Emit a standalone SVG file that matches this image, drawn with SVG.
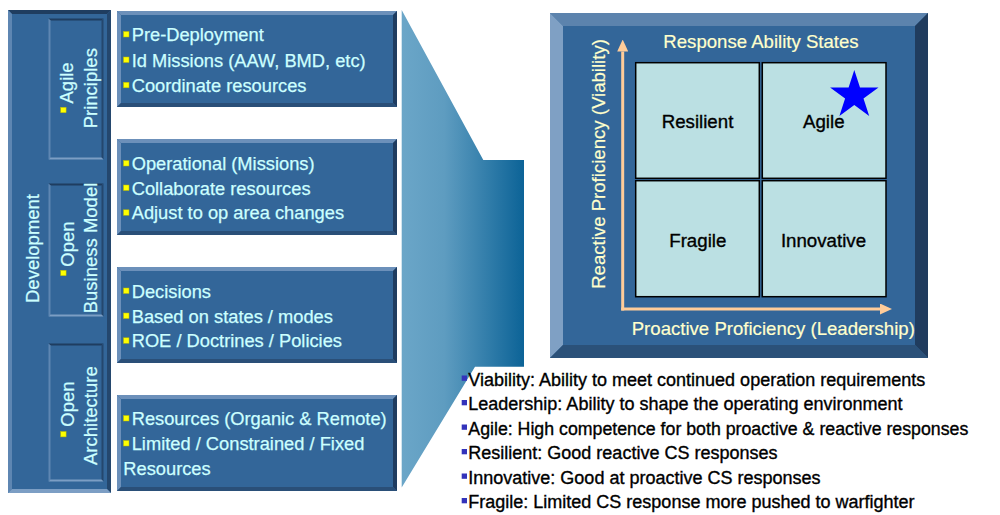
<svg xmlns="http://www.w3.org/2000/svg" width="1000" height="515" viewBox="0 0 1000 515">
<defs>
<linearGradient id="funnelGrad" x1="401.7" y1="0" x2="524" y2="0" gradientUnits="userSpaceOnUse">
<stop offset="0" stop-color="#6BA6C8"/>
<stop offset="0.35" stop-color="#5E9CC0"/>
<stop offset="1" stop-color="#0C6397"/>
</linearGradient>
<marker id="arrowHead" viewBox="0 0 12 11" refX="0" refY="5.5" markerWidth="12" markerHeight="11" markerUnits="userSpaceOnUse" orient="auto">
<path d="M0,0 L12,5.5 L0,11 Z" fill="#FFCC99"/>
</marker>
</defs>
<style>
.face{fill:#336699}
.bl{fill:#6C90BA}
.bd{fill:#1F3C60}
.bd2{fill:#2A4F78}
.txt{font-family:"Liberation Sans",Arial,sans-serif;font-size:18.3px;fill:#CCFFFF;stroke:#CCFFFF;stroke-width:0.25}
.lt{font-family:"Liberation Sans",Arial,sans-serif;font-size:18.5px;fill:#CCFFFF;stroke:#CCFFFF;stroke-width:0.25}
.ybul{fill:#FFFF00;stroke:#B8B800;stroke-width:0.5}
.bbul{fill:#3333BB}
.leg{font-family:"Liberation Sans",Arial,sans-serif;font-size:18px;fill:#000000;stroke:#000000;stroke-width:0.35}
.cell{fill:#BBE0E3;stroke:#000000;stroke-width:1.5}
.clab{font-family:"Liberation Sans",Arial,sans-serif;font-size:18.7px;fill:#000000;stroke:#000000;stroke-width:0.35;text-anchor:middle}
.axlab{font-family:"Liberation Sans",Arial,sans-serif;font-size:18.6px;fill:#FFFFCC;stroke:#FFFFCC;stroke-width:0.2;text-anchor:middle}
.axis{stroke:#FFCC99;stroke-width:3;fill:none}
</style>
<rect width="1000" height="515" fill="#FFFFFF"/>

<!-- Left development panel -->
<g id="development-panel">
<rect class="face" x="8" y="10" width="103" height="483"/>
<polygon fill="#1F3D60" points="8,10 111,10 107,14 12,14"/>
<polygon fill="#5E86B2" points="8,10 12,14 12,489 8,493"/>
<polygon fill="#24476E" points="111,10 111,493 107,489 107,14"/>
<polygon fill="#7C9EC4" points="8,493 12,489 107,489 111,493"/>
<text class="lt" transform="translate(38.5,303) rotate(-90)">Development</text>
</g>

<g id="agile-principles">
<rect class="face" x="48.5" y="18.5" width="55" height="141"/>
<polygon fill="#1F3D60" points="48.5,18.5 103.5,18.5 101.5,20.5 50.5,20.5"/>
<polygon fill="#5E86B2" points="48.5,18.5 50.5,20.5 50.5,157.5 48.5,159.5"/>
<polygon fill="#24476E" points="103.5,18.5 103.5,159.5 101.5,157.5 101.5,20.5"/>
<polygon fill="#7C9EC4" points="48.5,159.5 50.5,157.5 101.5,157.5 103.5,159.5"/>
<rect class="ybul" x="60.7" y="107.3" width="5.4" height="5.4"/>
<text class="lt" transform="translate(73,103.5) rotate(-90)">Agile</text>
<text class="lt" transform="translate(96.5,128.3) rotate(-90)">Principles</text>
</g>

<g id="open-business-model">
<rect class="face" x="48.5" y="183.5" width="55" height="133"/>
<polygon fill="#1F3D60" points="48.5,183.5 103.5,183.5 101.5,185.5 50.5,185.5"/>
<polygon fill="#5E86B2" points="48.5,183.5 50.5,185.5 50.5,314.5 48.5,316.5"/>
<polygon fill="#24476E" points="103.5,183.5 103.5,316.5 101.5,314.5 101.5,185.5"/>
<polygon fill="#7C9EC4" points="48.5,316.5 50.5,314.5 101.5,314.5 103.5,316.5"/>
<rect class="ybul" x="60.7" y="270.3" width="5.4" height="5.4"/>
<text class="lt" transform="translate(73.5,266.7) rotate(-90)">Open</text>
<text class="lt" transform="translate(96.5,313.3) rotate(-90)">Business Model</text>
</g>

<g id="open-architecture">
<rect class="face" x="48.5" y="343.5" width="55" height="138"/>
<polygon fill="#1F3D60" points="48.5,343.5 103.5,343.5 101.5,345.5 50.5,345.5"/>
<polygon fill="#5E86B2" points="48.5,343.5 50.5,345.5 50.5,479.5 48.5,481.5"/>
<polygon fill="#24476E" points="103.5,343.5 103.5,481.5 101.5,479.5 101.5,345.5"/>
<polygon fill="#7C9EC4" points="48.5,481.5 50.5,479.5 101.5,479.5 103.5,481.5"/>
<rect class="ybul" x="60.7" y="431.5" width="5.4" height="5.4"/>
<text class="lt" transform="translate(73.5,426.7) rotate(-90)">Open</text>
<text class="lt" transform="translate(96.5,465) rotate(-90)">Architecture</text>
</g>

<!-- Right-hand boxes -->
<g id="box-predeployment">
<rect class="face" x="117" y="11" width="280" height="96"/>
<polygon class="bl" points="117,11 397,11 393,15 121,15"/>
<polygon class="bl" points="117,11 121,15 121,103 117,107"/>
<polygon class="bd" points="397,11 397,107 393,103 393,15"/>
<polygon class="bd2" points="117,107 121,103 393,103 397,107"/>
<rect class="ybul" x="123.5" y="31.5" width="5.5" height="5.5"/>
<text class="txt" x="131.7" y="41">Pre-Deployment</text>
<rect class="ybul" x="123.5" y="57" width="5.5" height="5.5"/>
<text class="txt" x="131.7" y="66.5">Id Missions (AAW, BMD, etc)</text>
<rect class="ybul" x="123.5" y="82.3" width="5.5" height="5.5"/>
<text class="txt" x="131.7" y="91.8">Coordinate resources</text>
</g>

<g id="box-operational">
<rect class="face" x="117" y="139" width="280" height="96"/>
<polygon class="bl" points="117,139 397,139 393,143 121,143"/>
<polygon class="bl" points="117,139 121,143 121,231 117,235"/>
<polygon class="bd" points="397,139 397,235 393,231 393,143"/>
<polygon class="bd2" points="117,235 121,231 393,231 397,235"/>
<rect class="ybul" x="123.5" y="160.5" width="5.5" height="5.5"/>
<text class="txt" x="131.7" y="170">Operational (Missions)</text>
<rect class="ybul" x="123.5" y="185" width="5.5" height="5.5"/>
<text class="txt" x="131.7" y="194.5">Collaborate resources</text>
<rect class="ybul" x="123.5" y="209.8" width="5.5" height="5.5"/>
<text class="txt" x="131.7" y="219.3">Adjust to op area changes</text>
</g>

<g id="box-decisions">
<rect class="face" x="117" y="267" width="280" height="96"/>
<polygon class="bl" points="117,267 397,267 393,271 121,271"/>
<polygon class="bl" points="117,267 121,271 121,359 117,363"/>
<polygon class="bd" points="397,267 397,363 393,359 393,271"/>
<polygon class="bd2" points="117,363 121,359 393,359 397,363"/>
<rect class="ybul" x="123.5" y="288" width="5.5" height="5.5"/>
<text class="txt" x="131.7" y="297.5">Decisions</text>
<rect class="ybul" x="123.5" y="313" width="5.5" height="5.5"/>
<text class="txt" x="131.7" y="322.5">Based on states / modes</text>
<rect class="ybul" x="123.5" y="337.8" width="5.5" height="5.5"/>
<text class="txt" x="131.7" y="347.3">ROE / Doctrines / Policies</text>
</g>

<g id="box-resources">
<rect class="face" x="117" y="395" width="280" height="96"/>
<polygon class="bl" points="117,395 397,395 393,399 121,399"/>
<polygon class="bl" points="117,395 121,399 121,487 117,491"/>
<polygon class="bd" points="397,395 397,491 393,487 393,399"/>
<polygon class="bd2" points="117,491 121,487 393,487 397,491"/>
<rect class="ybul" x="123.5" y="415.5" width="5.5" height="5.5"/>
<text class="txt" x="131.7" y="425">Resources (Organic &amp; Remote)</text>
<rect class="ybul" x="123.5" y="440.5" width="5.5" height="5.5"/>
<text class="txt" x="131.7" y="450">Limited / Constrained / Fixed</text>
<text class="txt" x="123.3" y="475">Resources</text>
</g>

<!-- Funnel connector -->
<g id="connectors">
<polygon id="funnel" fill="url(#funnelGrad)" points="401.7,10 483.3,160 524,160 524,366.7 475,366.7 401.7,487.5"/>
</g>

<!-- Response Ability States panel -->
<g id="response-panel">
<rect class="face" x="550" y="13" width="378" height="345"/>
<polygon fill="#5C83AD" points="550,13 928,13 915,26 563,26"/>
<polygon fill="#7FA0C4" points="550,13 563,26 563,345 550,358"/>
<polygon fill="#203C5E" points="928,13 928,358 915,345 915,26"/>
<polygon fill="#2B5179" points="550,358 563,345 915,345 928,358"/>
<text class="axlab" x="761" y="48.3">Response Ability States</text>
<text class="axlab" transform="translate(605,164) rotate(-90)">Reactive Proficiency (Viability)</text>
<text class="axlab" x="773.3" y="335">Proactive Proficiency (Leadership)</text>
</g>

<g id="axes">
<line class="axis" x1="622.7" y1="310.5" x2="622.7" y2="51.5" marker-end="url(#arrowHead)"/>
<line class="axis" x1="621.2" y1="309" x2="880" y2="309" marker-end="url(#arrowHead)"/>
</g>

<g id="cell-resilient">
<rect class="cell" x="635.7" y="62.7" width="123.6" height="115.6"/>
<text class="clab" x="697.5" y="128.3">Resilient</text>
</g>
<g id="cell-agile">
<rect class="cell" x="762.3" y="62.7" width="123.7" height="115.6"/>
<text class="clab" x="823.8" y="128.3">Agile</text>
<polygon fill="#0000FF" points="854.3,70 860,87.5 878.5,87.5 863.5,98.4 869.2,116 854.3,105.1 839.4,116 845.1,98.4 830.1,87.5 848.6,87.5"/>
</g>
<g id="cell-fragile">
<rect class="cell" x="635.7" y="180.7" width="123.6" height="116"/>
<text class="clab" x="697.8" y="246.7">Fragile</text>
</g>
<g id="cell-innovative">
<rect class="cell" x="762.3" y="180.7" width="123.7" height="116"/>
<text class="clab" x="823.5" y="246.7">Innovative</text>
</g>

<!-- Legend -->
<g id="legend">
<rect class="bbul" x="461.7" y="375.5" width="5.3" height="5.3"/>
<text class="leg" x="468.3" y="385.5">Viability: Ability to meet continued operation requirements</text>
<rect class="bbul" x="461.7" y="400" width="5.3" height="5.3"/>
<text class="leg" x="468.3" y="410">Leadership: Ability to shape the operating environment</text>
<rect class="bbul" x="461.7" y="424.5" width="5.3" height="5.3"/>
<text class="leg" x="468.3" y="434.5" textLength="500" lengthAdjust="spacingAndGlyphs">Agile: High competence for both proactive &amp; reactive responses</text>
<rect class="bbul" x="461.7" y="449" width="5.3" height="5.3"/>
<text class="leg" x="468.3" y="459">Resilient: Good reactive CS responses</text>
<rect class="bbul" x="461.7" y="473.5" width="5.3" height="5.3"/>
<text class="leg" x="468.3" y="483.5">Innovative: Good at proactive CS responses</text>
<rect class="bbul" x="461.7" y="498" width="5.3" height="5.3"/>
<text class="leg" x="468.3" y="508">Fragile: Limited CS response more pushed to warfighter</text>
</g>
</svg>
